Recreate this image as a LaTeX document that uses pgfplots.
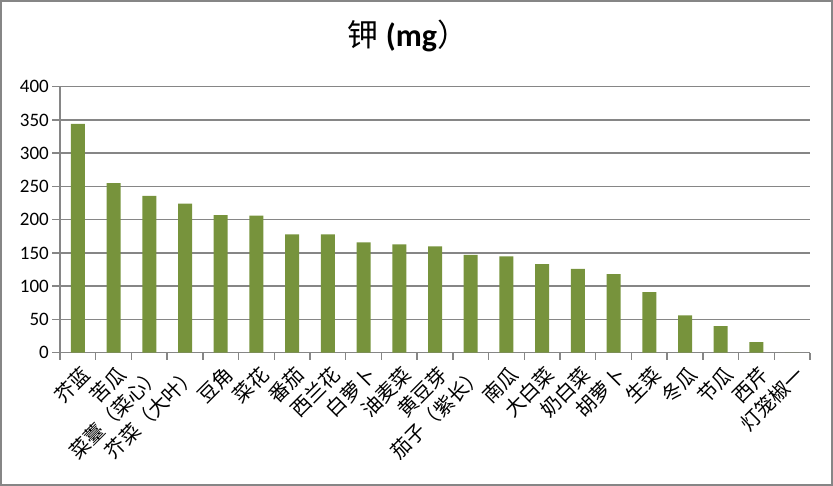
\documentclass[border=0pt]{standalone}
\usepackage{fontspec}
\setmainfont{Carlito}
\newfontfamily\cjk{Noto Sans CJK SC}
\usepackage{pgfplots}
\pgfplotsset{compat=1.18}
\definecolor{barg}{HTML}{77933C}
\definecolor{gridg}{HTML}{868686}
\begin{document}
\begin{tikzpicture}
\useasboundingbox (0,0) rectangle (833pt,486pt);
\draw[gridg, line width=2pt] (1pt,1pt) rectangle (832pt,485pt);
\begin{axis}[
  at={(60pt,133.3pt)}, anchor=south west,
  scale only axis, width=750pt, height=266pt,
  xmin=0.5, xmax=21.5, ymin=0, ymax=400,
  ybar, bar width=14pt,
  axis lines*=left,
  axis line style={gridg, line width=1.5pt},
  ymajorgrids, grid style={gridg, line width=1.5pt},
  ytick={0,50,...,400},
  xtick={1,...,21},
  minor xtick={0.5,1.5,...,21.5},
  xticklabels={芥蓝,苦瓜,菜薹（菜心）,芥菜（大叶）,豆角,菜花,番茄,西兰花,白萝卜,油麦菜,黄豆芽,茄子（紫长）,南瓜,大白菜,奶白菜,胡萝卜,生菜,冬瓜,节瓜,西芹,灯笼椒一},
  tick align=outside,
  major tick length=8pt, minor tick length=7pt,
  every tick/.style={gridg, line width=1.5pt},
  every major x tick/.style={draw=none},
  /pgf/number format/assume math mode=true,
  yticklabel style={font=\fontsize{19}{19}\selectfont, inner sep=3pt},
  xticklabel style={font=\cjk\fontsize{20}{20}\selectfont, rotate=45, anchor=east, inner sep=1pt, xshift=0pt, yshift=-13pt},
]
\addplot[fill=barg, draw=none] coordinates {
(1,344) (2,255) (3,236) (4,224) (5,207) (6,206) (7,178) (8,178) (9,166) (10,163)
(11,160) (12,147) (13,145) (14,133) (15,126) (16,118) (17,91) (18,56) (19,40) (20,16) (21,0)
};
\end{axis}
\node[anchor=center] at (408pt,450pt) {{\cjk\fontsize{31}{31}\selectfont 钾}\hspace{7pt}{\fontsize{32}{32}\selectfont\bfseries (mg}{\cjk\fontsize{31}{31}\selectfont ）}};
\end{tikzpicture}
\end{document}
